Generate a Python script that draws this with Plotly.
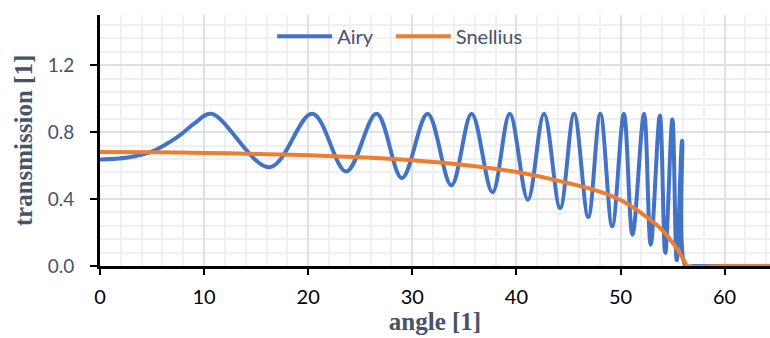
import plotly.graph_objects as go

# Airy transmission (extrema and a few points on the first rise)
airy_angle = [0, 2.65, 4.9, 7.46, 9.07, 10.7, 16.3, 20.4, 23.65, 26.57, 29.0, 31.47, 33.75,
              35.7, 37.7, 39.36, 41.1, 42.65, 44.2, 45.54, 46.9, 48.06, 49.2, 50.32, 51.15,
              52.26, 52.9, 53.78, 54.3, 54.98, 55.4, 55.92, 56.25, 57.0, 64.4]
airy_trans = [0.637, 0.649, 0.682, 0.772, 0.852, 0.91, 0.59, 0.91, 0.565, 0.91, 0.525, 0.91, 0.482,
              0.91, 0.44, 0.91, 0.396, 0.91, 0.346, 0.91, 0.293, 0.91, 0.237, 0.91, 0.187,
              0.91, 0.127, 0.90, 0.078, 0.876, 0.035, 0.748, 0.0, 0.0, 0.0]

# Snellius transmission
snell_angle = [0, 5, 10, 15, 20, 25, 30, 35, 40, 44, 48, 50, 52, 54, 55, 55.5, 56, 56.44, 60, 64.4]
snell_trans = [0.682, 0.680, 0.676, 0.670, 0.662, 0.650, 0.632, 0.604, 0.562, 0.51, 0.444, 0.394,
               0.316, 0.215, 0.14, 0.095, 0.045, 0.0, 0.0, 0.0]

x_ticks = [0, 10, 20, 30, 40, 50, 60]
y_ticks = [0.0, 0.4, 0.8, 1.2]
y_tick_labels = ["0.0", "0.4", "0.8", "1.2"]

BLUE = "#4472C4"
ORANGE = "#ED7D31"
SLATE = "#44546A"

fig = go.Figure()
fig.add_trace(go.Scatter(x=airy_angle, y=airy_trans, mode="lines", name="Airy", legend="legend",
                         line=dict(color=BLUE, width=4, shape="spline", smoothing=1)))
fig.add_trace(go.Scatter(x=snell_angle, y=snell_trans, mode="lines", name="Snellius", legend="legend2",
                         line=dict(color=ORANGE, width=4, shape="spline", smoothing=0.6)))

legend_style = dict(orientation="h", y=0.915, xanchor="left", yanchor="middle",
                    font=dict(family="Lato, Open Sans, sans-serif", size=20, color=SLATE),
                    bgcolor="rgba(0,0,0,0)", itemwidth=55)

fig.update_layout(
    width=770, height=338,
    margin=dict(l=100, r=0, t=15, b=72, autoexpand=False),
    plot_bgcolor="white", paper_bgcolor="white",
    showlegend=True,
    legend=dict(x=0.257, **legend_style),
    legend2=dict(x=0.434, **legend_style),
)
fig.update_xaxes(
    range=[0, 64.36], tickvals=x_ticks, ticktext=[str(v) for v in x_ticks],
    showline=True, linecolor="black", linewidth=3, layer="below traces",
    ticks="outside", ticklen=6, tickwidth=2, tickcolor="black", ticklabelstandoff=5,
    tickfont=dict(family="Lato, Open Sans, sans-serif", size=20, color="black"),
    showgrid=True, gridcolor="#DCE1E8", gridwidth=1.5,
    minor=dict(dtick=2, showgrid=True, gridcolor="#EEF0F4", gridwidth=1.5),
    zeroline=False, automargin=False,
    title=dict(text="<b>angle [1]</b>", standoff=0,
               font=dict(family="Liberation Serif, Times New Roman, serif", size=25, color=SLATE)),
)
fig.update_yaxes(
    range=[0, 1.5], tickvals=y_ticks, ticktext=y_tick_labels,
    showline=True, linecolor="black", linewidth=3, layer="below traces",
    ticks="outside", ticklen=7, tickwidth=2, tickcolor="black", ticklabelstandoff=12,
    tickfont=dict(family="Lato, Open Sans, sans-serif", size=19, color=SLATE),
    showgrid=True, gridcolor="#DCE1E8", gridwidth=1.5,
    minor=dict(dtick=0.08, tick0=0, showgrid=True, gridcolor="#EEF0F4", gridwidth=1.5),
    zeroline=False, automargin=False,
    title=dict(text="<b>transmission [1]</b>", standoff=8,
               font=dict(family="Liberation Serif, Times New Roman, serif", size=25, color=SLATE)),
)

fig.write_html("out.html", config={"displayModeBar": False},
               post_script="document.body.style.margin='0';document.body.style.overflow='hidden';")
